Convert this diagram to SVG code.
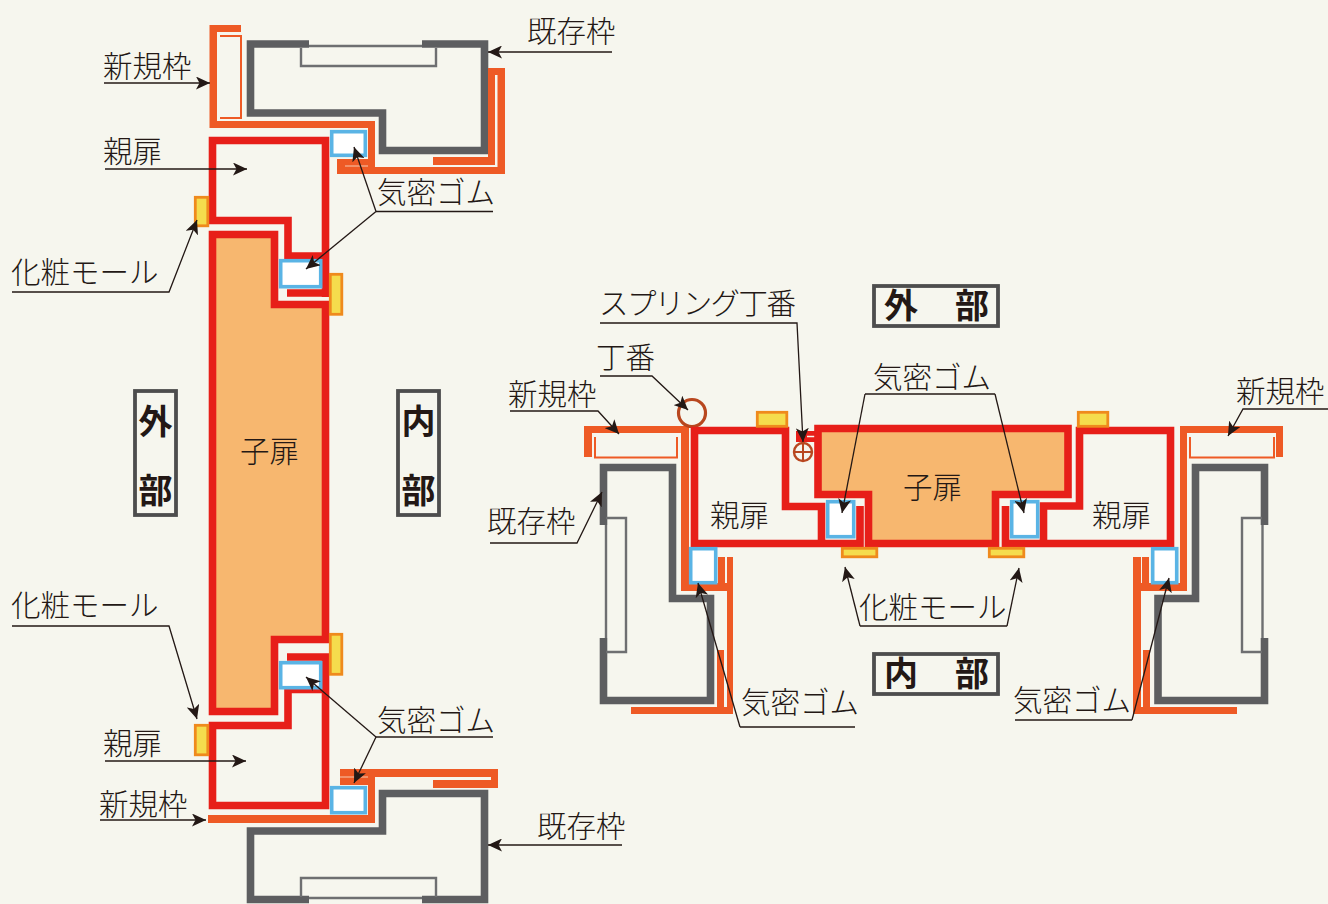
<svg xmlns="http://www.w3.org/2000/svg" width="1328" height="904" viewBox="0 0 1328 904">
<style>
text{font-family:"Noto Sans CJK JP","Noto Sans",sans-serif;font-size:29.5px;font-weight:300;fill:#231815}
.b{font-weight:700;font-size:34px}
.o{fill:#ee5a25}
.ob{fill:none;stroke:#ee5a25;stroke-width:2.5}
.r{fill:none;stroke:#e71f19;stroke-width:7.6;stroke-linejoin:miter}
.c{fill:#f7b76f;stroke:#e71f19;stroke-width:7.6}
.g{fill:none;stroke:#5d5e60;stroke-width:7.6}
.gt{fill:none;stroke:#6e6f71;stroke-width:2.4}
.s{fill:#fff;stroke:#5ab4e5;stroke-width:3.6}
.y{fill:#f5dc4d;stroke:#ef8a1d;stroke-width:2.8}
.l{fill:none;stroke:#231815;stroke-width:1.3;marker-end:url(#a)}
.n{fill:none;stroke:#231815;stroke-width:1.3}
.box{fill:#f6f6ee;stroke:#4d4d4d;stroke-width:3.8}
.h{fill:none;stroke:#b8471f}
</style>
<defs><marker id="a" markerUnits="userSpaceOnUse" markerWidth="15" markerHeight="13" refX="14" refY="6.500" orient="auto"><path d="M0 0L14 6.500L0 13L3.500 6.500Z" fill="#231815"/></marker></defs>
<rect width="1328" height="904" fill="#f6f6ee"/>

<g id="left-existing-frame-top"><path class="g" d="M309 44H250.500V113H382.500V150.500H484.500V44H422"/><path class="gt" d="M309 46H422M301 48V66H436V48"/></g>
<g id="left-new-frame-top"><path class="o" d="M209.500 25H241V32H217V121H375V167H497.500V75H488V68H505V174H337V159H368V128H209.500Z"/><path class="o" d="M488 75H495V165H433V157H488Z"/><path class="ob" style="stroke-width:2" d="M220 36H241V118H220"/><path d="M345 166H368" stroke="#f6c9b0" fill="none"/></g>
<g id="left-parent-door-top"><path class="r" d="M325.500 293H287M325.500 256H288V220.500H212.500V140.500H325.500V297"/></g>
<g id="left-child-door"><path class="c" d="M212.500 234.500H274.500V304.500H325.500V639.500H274.500V711.500H212.500Z"/><text x="240" y="462">子扉</text></g>
<g id="left-parent-door-bottom"><path class="r" d="M287 657H325.500V805.500H212.500V725.500H288V689.500H325.500"/></g>
<g id="left-new-frame-bottom"><path class="o" d="M208 815H368V785H340V769H498V788H433V780H491V777H375V823H208Z"/><path d="M340 777H368" stroke="#f6c9b0" fill="none"/></g>
<g id="left-existing-frame-bottom"><path class="g" d="M309 899.500H250.500V831H382.500V793.500H484.500V899.500H422"/><path class="gt" d="M309 898H422M301 897V878H436V897"/></g>
<g id="left-seals"><rect class="s" x="331.700" y="131.700" width="33.600" height="23.600"/><rect class="s" x="280.700" y="260.700" width="40" height="26"/><rect class="s" x="280.700" y="662.700" width="40" height="25"/><rect class="s" x="331.700" y="787.700" width="33.600" height="25"/></g>
<g id="left-mouldings"><rect class="y" x="195.300" y="197.300" width="12.500" height="28.500"/><rect class="y" x="330.300" y="274.300" width="11.500" height="40"/><rect class="y" x="330.300" y="634.300" width="11.500" height="40"/><rect class="y" x="195.300" y="725.300" width="12.500" height="29.500"/></g>

<g id="mid-existing-left"><path class="g" d="M603.500 525V467.500H672.500V598.500H710.500V700.500H603.500V638"/><path class="gt" d="M606 525V638M606 518H626V652H606"/></g>
<g id="mid-new-left"><path class="o" d="M584 426H689V583H718V557H725V583H727V557H733V714H631V707H717V650H724V707H727V591H681V433H592V457H584Z"/><path class="ob" style="stroke-width:2" d="M595 437V457.500H677V437"/></g>
<g id="mid-existing-right"><path class="g" d="M1264.500 525V467.500H1195.500V598.500H1158V700.500H1264.500V638"/><path class="gt" d="M1262.500 525V638M1262 518H1242V652H1262"/></g>
<g id="mid-new-right"><path class="o" d="M1283 426V457H1276V433H1187V591H1141V707H1143V650H1150V707H1237V714H1133V557H1141V583H1142V557H1149V583H1180V426Z"/><path class="ob" style="stroke-width:2" d="M1274 437V457.500H1190V437"/></g>
<g id="mid-hinge"><rect x="796" y="431" width="20" height="11" fill="#e71f19"/><path d="M807 436.500H816" stroke="#f6f6ee" stroke-width="1.500"/><circle class="h" cx="803" cy="452" r="9" stroke-width="2.400"/><path class="h" stroke-width="2" d="M794 452H812M803 443V461"/><circle class="h" cx="692" cy="413" r="13.500" stroke-width="3.200"/></g>
<g id="mid-child-door"><path class="c" d="M818 428.500H1068V494.500H995.500V543.500H868.500V494.500H818Z"/><text x="903" y="498">子扉</text></g>
<g id="mid-parent-left"><path class="r" d="M860 506V543.500H694.500V430.500H785.500V506.500H821.500V547"/><text x="710" y="526">親扉</text></g>
<g id="mid-parent-right"><path class="r" d="M1005.500 506V543.500H1170.500V430.500H1079.500V506H1043.500V547"/><text x="1092" y="526">親扉</text></g>
<g id="mid-seals"><rect class="s" x="827.700" y="501.700" width="26" height="35"/><rect class="s" x="1011.700" y="501.700" width="26" height="35"/><rect class="s" x="690.700" y="548.700" width="25" height="34"/><rect class="s" x="1152.700" y="548.700" width="24" height="34"/></g>
<g id="mid-mouldings"><rect class="y" x="757.300" y="412.300" width="29.500" height="14"/><rect class="y" x="1078.300" y="412.300" width="29.500" height="14"/><rect class="y" x="842.300" y="548.300" width="34.500" height="8.500"/><rect class="y" x="989.300" y="548.300" width="34.500" height="8.500"/></g>

<g id="connectors">
<path class="l" d="M104 83H210"/><path class="l" d="M612 52H488"/><path class="l" d="M105 169H247"/>
<path class="n" d="M376 211.500H493"/><path class="l" d="M376 211.500L354 147"/><path class="l" d="M376 211.500L306 269"/>
<path class="l" d="M12 292H169L197 220"/><path class="l" d="M12 626H169L197 719"/>
<path class="l" d="M105 761H246"/><path class="l" d="M100 820H206"/>
<path class="n" d="M376 737H493"/><path class="l" d="M376 737L306 677"/><path class="l" d="M376 737L354 783"/>
<path class="l" d="M622 845H488"/>
<path class="l" d="M600 323H797L803 442"/><path class="l" d="M600 376H652L688 410"/>
<path class="l" d="M510 411H598L619 434"/><path class="l" d="M490 543H577L602 492"/>
<path class="n" d="M865 394H995"/><path class="l" d="M865 394L842 513"/><path class="l" d="M995 394L1024 513"/>
<path class="n" d="M860 626H1007"/><path class="l" d="M860 626L845 567"/><path class="l" d="M1007 626L1019 568"/>
<path class="n" d="M855 727H740"/><path class="l" d="M740 727L698 583"/>
<path class="n" d="M1015 720H1132"/><path class="l" d="M1132 720L1169 578"/>
<path class="l" d="M1328 409H1243L1228 436"/>
</g>

<g id="labels">
<text x="103" y="77">新規枠</text><text x="527" y="42">既存枠</text><text x="103" y="162">親扉</text><text x="377" y="203">気密ゴム</text>
<text x="11" y="283">化粧モール</text><text x="11" y="616">化粧モール</text><text x="377" y="731">気密ゴム</text><text x="103" y="754">親扉</text>
<text x="99" y="815">新規枠</text><text x="537" y="837">既存枠</text>
<text x="599" y="314" letter-spacing="-1.600">スプリング丁番</text><text x="596" y="368">丁番</text><text x="508" y="405">新規枠</text><text x="487" y="532">既存枠</text>
<text x="873" y="388">気密ゴム</text><text x="859" y="618">化粧モール</text><text x="741" y="713">気密ゴム</text><text x="1013" y="711">気密ゴム</text><text x="1236" y="402">新規枠</text>
</g>
<g id="box-outside-left"><rect class="box" x="135" y="391" width="41" height="124"/><text class="b" x="155.500" y="434" text-anchor="middle">外</text><text class="b" x="155.500" y="503" text-anchor="middle">部</text></g>
<g id="box-inside-left"><rect class="box" x="398" y="391" width="41" height="124"/><text class="b" x="418.500" y="434" text-anchor="middle">内</text><text class="b" x="418.500" y="503" text-anchor="middle">部</text></g>
<g id="box-outside-mid"><rect class="box" x="874" y="286" width="124" height="40"/><text class="b" x="901" y="318" text-anchor="middle">外</text><text class="b" x="972" y="318" text-anchor="middle">部</text></g>
<g id="box-inside-mid"><rect class="box" x="874" y="654" width="124" height="40"/><text class="b" x="901" y="686" text-anchor="middle">内</text><text class="b" x="972" y="686" text-anchor="middle">部</text></g>
</svg>
